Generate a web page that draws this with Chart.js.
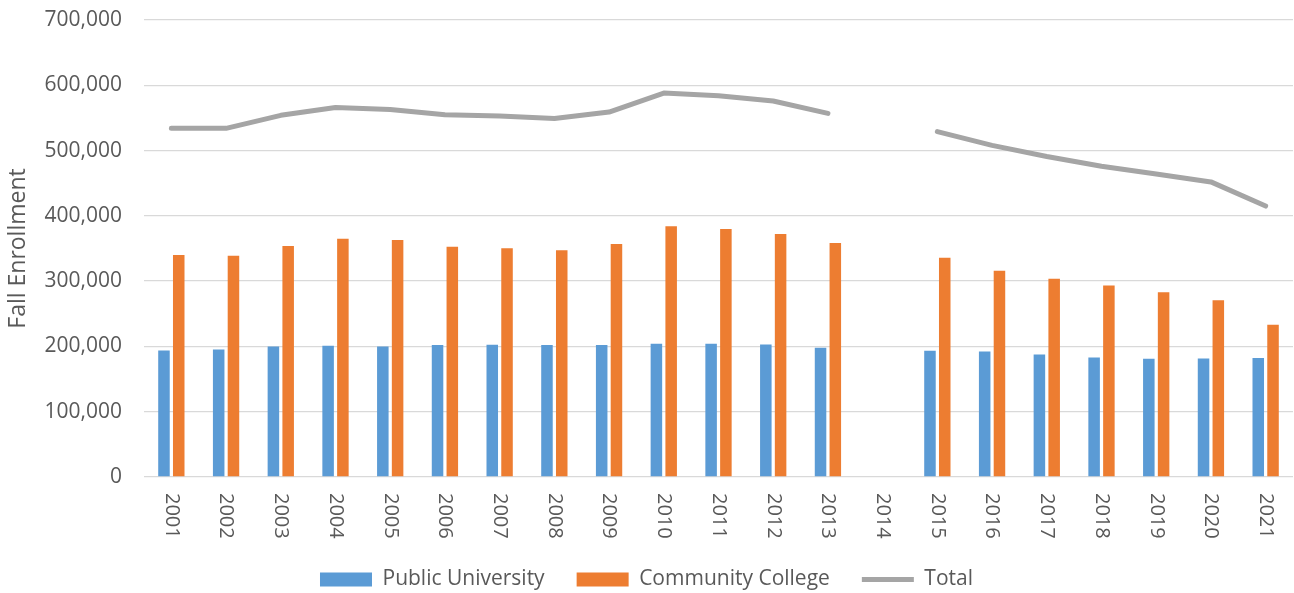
<!DOCTYPE html>
<html>
<head>
<meta charset="utf-8">
<script src="https://cdn.jsdelivr.net/npm/chart.js@4.4.0/dist/chart.umd.min.js"></script>
<style>
    html, body { margin: 0; padding: 0; background: #fff; }
    #wrap { width: 1294px; height: 593px; }
</style>
</head>
<body>
<div id="wrap"><canvas id="enrollChart"></canvas></div>
<script>
const years = ['2001', '2002', '2003', '2004', '2005', '2006', '2007', '2008', '2009', '2010', '2011',
               '2012', '2013', '2014', '2015', '2016', '2017', '2018', '2019', '2020', '2021'];
const publicUniversity = [193800, 195400, 200000, 201000, 200000, 202000, 202600, 202000, 202000, 204100, 204100,
                          203100, 198000, null, 193300, 192300, 187700, 183100, 181000, 181500, 182100];
const communityCollege = [340000, 339000, 353800, 365100, 363100, 352800, 350300, 347200, 356900, 384100, 380000,
                          372300, 358500, null, 335900, 315900, 303600, 293300, 283100, 270800, 233300];
const totalEnrollment = [534300, 534000, 554000, 566000, 563000, 555000, 553000, 549000, 559000, 588000, 584000,
                         576000, 557000, null, 529000, 508000, 491000, 476000, 464000, 452000, 415000];
const yTicks = [0, 100000, 200000, 300000, 400000, 500000, 600000, 700000];

const FONT = "'Open Sans', 'Liberation Sans', sans-serif";
const TEXT = '#595959';

// x labels read top-to-bottom (rotated clockwise), so draw them ourselves
const verticalLabels = {
    id: 'verticalLabels',
    afterDraw(chart) {
        const scale = chart.scales.x;
        const ctx = chart.ctx;
        ctx.save();
        ctx.fillStyle = TEXT;
        ctx.font = '20px ' + FONT;
        ctx.textAlign = 'left';
        ctx.textBaseline = 'middle';
        years.forEach((label, i) => {
            const x = scale.getPixelForTick(i);
            ctx.save();
            ctx.translate(x, scale.top + 16);
            ctx.rotate(Math.PI / 2);
            ctx.fillText(label, 0, 0);
            ctx.restore();
        });
        ctx.restore();
    }
};

const ctx = document.getElementById('enrollChart');
new Chart(ctx, {
    data: {
        labels: years,
        datasets: [
            {
                type: 'bar',
                label: 'Public University',
                data: publicUniversity,
                backgroundColor: '#5B9BD5',
                borderWidth: 0,
                pointStyle: 'rect',
                order: 2
            },
            {
                type: 'bar',
                label: 'Community College',
                data: communityCollege,
                backgroundColor: '#ED7D31',
                borderWidth: 0,
                pointStyle: 'rect',
                order: 2
            },
            {
                type: 'line',
                label: 'Total',
                data: totalEnrollment,
                borderColor: '#A5A5A5',
                backgroundColor: '#A5A5A5',
                borderWidth: 5,
                borderCapStyle: 'round',
                borderJoinStyle: 'round',
                tension: 0,
                spanGaps: false,
                pointRadius: 0,
                pointStyle: 'line',
                order: 1
            }
        ]
    },
    options: {
        responsive: true,
        maintainAspectRatio: false,
        animation: false,
        layout: { padding: { top: 20, right: 1, left: 0, bottom: -7 } },
        datasets: {
            bar: { categoryPercentage: 0.54, barPercentage: 0.78 }
        },
        plugins: {
            legend: {
                position: 'bottom',
                labels: {
                    usePointStyle: true,
                    pointStyleWidth: 52,
                    boxHeight: 14,
                    padding: 32,
                    color: TEXT,
                    font: { family: FONT, size: 21 },
                    sort: (a, b) => a.datasetIndex - b.datasetIndex
                }
            },
            tooltip: { enabled: false }
        },
        scales: {
            x: {
                ticks: { display: false },
                grid: { display: false },
                border: { display: false },
                afterFit: (s) => { s.height = 60; }
            },
            y: {
                min: 0,
                max: 700000,
                afterBuildTicks: (s) => { s.ticks = yTicks.map(v => ({ value: v })); },
                ticks: {
                    color: TEXT,
                    padding: 22,
                    font: { family: FONT, size: 21 },
                    callback: (v) => v.toLocaleString('en-US')
                },
                grid: { color: '#D9D9D9', lineWidth: 1.3, drawTicks: false },
                border: { display: false },
                title: {
                    display: true,
                    text: 'Fall Enrollment',
                    color: TEXT,
                    font: { family: FONT, size: 23 },
                    padding: { top: 5, bottom: 0 }
                },
                afterFit: (s) => {
                    s.width = 144;
                    s.paddingTop = 0;
                    s.paddingBottom = 0;
                }
            }
        }
    },
    plugins: [verticalLabels]
});
</script>
</body>
</html>
